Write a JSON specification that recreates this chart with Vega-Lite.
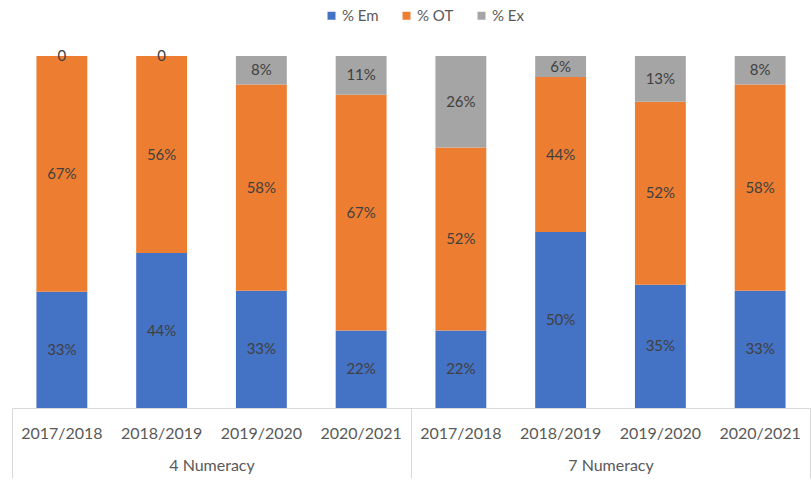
{
  "$schema": "https://vega.github.io/schema/vega-lite/v6.json",
  "width": 798,
  "height": 352,
  "autosize": {"type": "none"},
  "padding": {"left": 12, "top": 56, "right": 1, "bottom": 79},
  "background": "white",
  "config": {"view": {"stroke": null}, "font": "Lato"},
  "data": {
    "values": [
      {"group": "4 Numeracy", "key": "4 Numeracy|2017/2018", "cat": "% Em", "ord": 1, "value": 33, "label": "33%"},
      {"group": "4 Numeracy", "key": "4 Numeracy|2017/2018", "cat": "% OT", "ord": 2, "value": 67, "label": "67%"},
      {"group": "4 Numeracy", "key": "4 Numeracy|2017/2018", "cat": "% Ex", "ord": 3, "value": 0, "label": "0"},
      {"group": "4 Numeracy", "key": "4 Numeracy|2018/2019", "cat": "% Em", "ord": 1, "value": 44, "label": "44%"},
      {"group": "4 Numeracy", "key": "4 Numeracy|2018/2019", "cat": "% OT", "ord": 2, "value": 56, "label": "56%"},
      {"group": "4 Numeracy", "key": "4 Numeracy|2018/2019", "cat": "% Ex", "ord": 3, "value": 0, "label": "0"},
      {"group": "4 Numeracy", "key": "4 Numeracy|2019/2020", "cat": "% Em", "ord": 1, "value": 33, "label": "33%"},
      {"group": "4 Numeracy", "key": "4 Numeracy|2019/2020", "cat": "% OT", "ord": 2, "value": 58, "label": "58%"},
      {"group": "4 Numeracy", "key": "4 Numeracy|2019/2020", "cat": "% Ex", "ord": 3, "value": 8, "label": "8%"},
      {"group": "4 Numeracy", "key": "4 Numeracy|2020/2021", "cat": "% Em", "ord": 1, "value": 22, "label": "22%"},
      {"group": "4 Numeracy", "key": "4 Numeracy|2020/2021", "cat": "% OT", "ord": 2, "value": 67, "label": "67%"},
      {"group": "4 Numeracy", "key": "4 Numeracy|2020/2021", "cat": "% Ex", "ord": 3, "value": 11, "label": "11%"},
      {"group": "7 Numeracy", "key": "7 Numeracy|2017/2018", "cat": "% Em", "ord": 1, "value": 22, "label": "22%"},
      {"group": "7 Numeracy", "key": "7 Numeracy|2017/2018", "cat": "% OT", "ord": 2, "value": 52, "label": "52%"},
      {"group": "7 Numeracy", "key": "7 Numeracy|2017/2018", "cat": "% Ex", "ord": 3, "value": 26, "label": "26%"},
      {"group": "7 Numeracy", "key": "7 Numeracy|2018/2019", "cat": "% Em", "ord": 1, "value": 50, "label": "50%"},
      {"group": "7 Numeracy", "key": "7 Numeracy|2018/2019", "cat": "% OT", "ord": 2, "value": 44, "label": "44%"},
      {"group": "7 Numeracy", "key": "7 Numeracy|2018/2019", "cat": "% Ex", "ord": 3, "value": 6, "label": "6%"},
      {"group": "7 Numeracy", "key": "7 Numeracy|2019/2020", "cat": "% Em", "ord": 1, "value": 35, "label": "35%"},
      {"group": "7 Numeracy", "key": "7 Numeracy|2019/2020", "cat": "% OT", "ord": 2, "value": 52, "label": "52%"},
      {"group": "7 Numeracy", "key": "7 Numeracy|2019/2020", "cat": "% Ex", "ord": 3, "value": 13, "label": "13%"},
      {"group": "7 Numeracy", "key": "7 Numeracy|2020/2021", "cat": "% Em", "ord": 1, "value": 33, "label": "33%"},
      {"group": "7 Numeracy", "key": "7 Numeracy|2020/2021", "cat": "% OT", "ord": 2, "value": 58, "label": "58%"},
      {"group": "7 Numeracy", "key": "7 Numeracy|2020/2021", "cat": "% Ex", "ord": 3, "value": 8, "label": "8%"}
    ]
  },
  "layer": [
    {
      "layer": [
        {
          "mark": {"type": "bar"},
          "encoding": {
            "x": {
              "field": "key",
              "type": "nominal",
              "scale": {
                "domain": ["4 Numeracy|2017/2018", "4 Numeracy|2018/2019", "4 Numeracy|2019/2020", "4 Numeracy|2020/2021", "7 Numeracy|2017/2018", "7 Numeracy|2018/2019", "7 Numeracy|2019/2020", "7 Numeracy|2020/2021"],
                "paddingInner": 0.49,
                "paddingOuter": 0.245
              },
              "axis": {
                "title": null,
                "labelExpr": "split(datum.label, '|')[1]",
                "ticks": false,
                "grid": false,
                "domainColor": "#d9d9d9",
                "labelFontSize": 16,
                "labelColor": "#595959",
                "labelPadding": 17,
                "labelAngle": 0,
                "labelFont": "Lato"
              }
            },
            "y": {
              "field": "value",
              "type": "quantitative",
              "stack": "normalize",
              "scale": {"domain": [0, 1]},
              "axis": null
            },
            "color": {
              "field": "cat",
              "type": "nominal",
              "scale": {"domain": ["% Em", "% OT", "% Ex"], "range": ["#4472C4", "#ED7D31", "#A5A5A5"]},
              "legend": {
                "orient": "none",
                "legendX": 312,
                "legendY": -48,
                "direction": "horizontal",
                "title": null,
                "symbolType": "square",
                "symbolSize": 64,
                "symbolStrokeWidth": 0,
                "labelFontSize": 15,
                "labelColor": "#595959",
                "labelFont": "Lato",
                "columnPadding": 20,
                "labelOffset": 3
              }
            },
            "order": {"field": "ord", "type": "quantitative"}
          }
        },
        {
          "transform": [
            {"stack": "value", "groupby": ["key"], "sort": [{"field": "ord", "order": "ascending"}], "as": ["v0", "v1"], "offset": "normalize"},
            {"fold": ["v0", "v1"], "as": ["edge", "pos"]},
            {"aggregate": [{"op": "mean", "field": "pos", "as": "mid"}], "groupby": ["key", "cat", "label"]}
          ],
          "mark": {"type": "text", "fontSize": 15, "color": "#404040", "align": "center", "baseline": "middle", "font": "Lato"},
          "encoding": {
            "x": {"field": "key", "type": "nominal"},
            "y": {"field": "mid", "type": "quantitative", "scale": {"domain": [0, 1]}},
            "text": {"field": "label", "type": "nominal"}
          }
        }
      ]
    },
    {
      "mark": {"type": "point", "opacity": 0},
      "encoding": {
        "x": {
          "field": "group",
          "type": "nominal",
          "scale": {"domain": ["4 Numeracy", "7 Numeracy"], "paddingInner": 0, "paddingOuter": 0},
          "axis": {
            "orient": "bottom",
            "title": null,
            "domain": false,
            "ticks": true,
            "tickBand": "extent",
            "tickSize": 70,
            "tickColor": "#d9d9d9",
            "grid": false,
            "labelPadding": -21,
            "labelFontSize": 16,
            "labelColor": "#595959",
            "labelAngle": 0,
            "labelFont": "Lato"
          }
        }
      }
    }
  ],
  "resolve": {"scale": {"x": "independent"}, "axis": {"x": "independent"}}
}
